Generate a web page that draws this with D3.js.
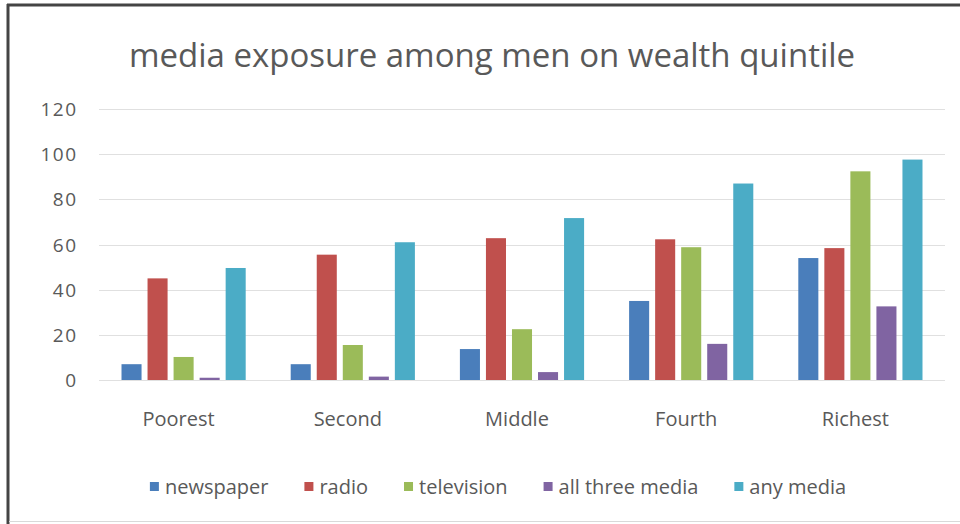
<!DOCTYPE html>
<html>
<head>
<meta charset="utf-8">
<script src="https://cdn.jsdelivr.net/npm/d3@7"></script>
<style>
  html, body { margin: 0; padding: 0; background: #fff; }
  svg { display: block; }
</style>
</head>
<body>
<svg id="chart" width="960" height="524"></svg>
<script>
// Media exposure among men, by wealth quintile (percent)
const quintiles = ["Poorest", "Second", "Middle", "Fourth", "Richest"];
const seriesNames = ["newspaper", "radio", "television", "all three media", "any media"];
const newspaper = [7, 7, 13.7, 35, 54];
const radio = [45, 55.5, 62.8, 62.3, 58.4];
const television = [10.2, 15.5, 22.5, 58.8, 92.4];
const allThree = [1, 1.5, 3.5, 16, 32.6];
const anyMedia = [49.6, 61, 71.7, 87, 97.6];
const yTicks = [0, 20, 40, 60, 80, 100, 120];
const colors = ["#4a7ebb", "#c0504d", "#9bbb59", "#8064a2", "#4bacc6"];

const seriesValues = [newspaper, radio, television, allThree, anyMedia];

const svg = d3.select("#chart");
const W = 960, H = 524;
const font = "'Open Sans', sans-serif";
const textColor = "#595959";

// frame
svg.append("rect").attr("x", 0).attr("y", 0).attr("width", W).attr("height", H).attr("fill", "#fff");
svg.append("line").attr("x1", 7).attr("x2", W).attr("y1", 5).attr("y2", 5)
  .attr("stroke", "#444").attr("stroke-width", 3);
svg.append("line").attr("x1", 8).attr("x2", 8).attr("y1", 4).attr("y2", H)
  .attr("stroke", "#444").attr("stroke-width", 3);
svg.append("line").attr("x1", 9).attr("x2", W).attr("y1", 521.5).attr("y2", 521.5)
  .attr("stroke", "#d9d9d9").attr("stroke-width", 1);

// title
svg.append("text")
  .attr("x", 492).attr("y", 67)
  .attr("text-anchor", "middle")
  .attr("font-family", font).attr("font-size", 33)
  .attr("fill", textColor)
  .text("media exposure among men on wealth quintile");

const plot = { left: 99, right: 945, top: 109, bottom: 380 };

const y = d3.scaleLinear().domain([0, 120]).range([plot.bottom, plot.top]);
const x0 = d3.scaleBand().domain(quintiles).range([plot.left, plot.right])
  .paddingInner(0.266).paddingOuter(0.133);
const x1 = d3.scaleBand().domain(seriesNames).range([0, x0.bandwidth()])
  .paddingInner(0.23).paddingOuter(0);

// gridlines
svg.append("g")
  .selectAll("line").data(yTicks).join("line")
  .attr("x1", plot.left).attr("x2", plot.right)
  .attr("y1", d => Math.round(y(d)) + 0.5).attr("y2", d => Math.round(y(d)) + 0.5)
  .attr("stroke", "#e0e0e0").attr("stroke-width", 1);

// y axis labels
const yAxis = d3.axisLeft(y).tickValues(yTicks).tickSize(0).tickPadding(0);
const yg = svg.append("g").attr("transform", "translate(77.5,0)").call(yAxis);
yg.select(".domain").remove();
yg.selectAll("text")
  .attr("font-family", font).attr("font-size", 19)
  .attr("letter-spacing", 1.5)
  .attr("fill", textColor).attr("dy", "0.35em");

// bars
const groups = svg.append("g").selectAll("g").data(quintiles).join("g")
  .attr("transform", d => `translate(${x0(d)},0)`);
groups.selectAll("rect")
  .data((q, i) => seriesNames.map((s, j) => ({ s, j, v: seriesValues[j][i] })))
  .join("rect")
  .attr("x", d => x1(d.s))
  .attr("width", x1.bandwidth())
  .attr("y", d => y(d.v))
  .attr("height", d => y(0) - y(d.v))
  .attr("fill", d => colors[d.j]);

// category labels
const xAxis = d3.axisBottom(x0).tickSize(0).tickPadding(0);
const xg = svg.append("g").attr("transform", "translate(-5,412)").call(xAxis);
xg.select(".domain").remove();
xg.selectAll("text")
  .attr("font-family", font).attr("font-size", 20)
  .attr("fill", textColor).attr("dy", "0.71em");

// legend
const legend = svg.append("g");
const items = legend.selectAll("g").data(seriesNames).join("g");
items.append("rect")
  .attr("width", 9).attr("height", 9)
  .attr("y", 482)
  .attr("fill", (d, i) => colors[i]);
items.append("text")
  .attr("x", 15).attr("y", 494)
  .attr("font-family", font).attr("font-size", 20)
  .attr("fill", textColor)
  .text(d => d);
const gap = 36;
let widths = [];
items.each(function () { widths.push(15 + d3.select(this).select("text").node().getComputedTextLength()); });
const total = d3.sum(widths) + gap * (widths.length - 1);
let cx = 498 - total / 2;
items.each(function (d, i) {
  d3.select(this).attr("transform", `translate(${cx},0)`);
  cx += widths[i] + gap;
});
</script>
</body>
</html>
